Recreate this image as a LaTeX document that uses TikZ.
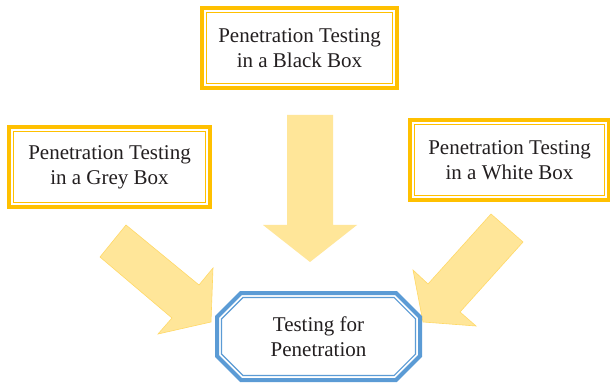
\documentclass[tikz,border=0pt]{standalone}
\usepackage{fontspec}
\setmainfont{Liberation Serif}
\usetikzlibrary{calc}
\definecolor{gold}{HTML}{FFC000}
\definecolor{blueb}{HTML}{5B9BD5}
\definecolor{arrowfill}{HTML}{FFE699}
\definecolor{arrowline}{HTML}{FFD966}
\definecolor{txt}{HTML}{231F20}
\begin{document}
\begin{tikzpicture}[x=1pt,y=-1pt,
  goldbox/.style={draw=gold, line width=4pt, fill=white, minimum width=#1,
    minimum height=80pt, inner sep=0pt, outer sep=0pt, align=center,
    font=\fontsize{21}{25}\selectfont, text=txt},
  innerline/.style={draw=gold, line width=1.2pt},
  blueline/.style={draw=blueb, line width=4pt, line join=miter},
  blueinner/.style={draw=blueb, line width=1.2pt, line join=miter},
  blockarrow/.style={fill=arrowfill, draw=arrowline, line width=0.6pt, line join=miter},
  lbl/.style={align=center, font=\fontsize{21}{25}\selectfont, text=txt, inner sep=0pt}]
\useasboundingbox[fill=white] (0,0) rectangle (610,387);

% block arrows
\fill[arrowfill] (287,115) -- (333,115) -- (333,225) -- (357,225) -- (310,262) -- (263,225) -- (287,225) -- cycle;
\draw[blockarrow] (100,257) -- (126,225) -- (199,285) -- (213,268) -- (211,322) -- (158,334) -- (172,318) -- cycle;
\draw[blockarrow] (491,214) -- (523,242) -- (460,312) -- (476,326) -- (423,322) -- (413,270) -- (428,284) -- cycle;

% boxes
\node[goldbox=195pt] (black) at (299.5,48) {Penetration Testing\\in a Black Box};
\draw[innerline] ($(black.north west)+(4.5,4.5)$) rectangle ($(black.south east)+(-4.5,-4.5)$);
\node[goldbox=201pt] (grey) at (109.5,167) {Penetration Testing\\in a Grey Box};
\draw[innerline] ($(grey.north west)+(4.5,4.5)$) rectangle ($(grey.south east)+(-4.5,-4.5)$);
\node[goldbox=199pt] (white) at (509.5,160) {Penetration Testing\\in a White Box};
\draw[innerline] ($(white.north west)+(4.5,4.5)$) rectangle ($(white.south east)+(-4.5,-4.5)$);

% octagon
\coordinate (pc) at (318.5,336.5);
\coordinate (nw) at ($(pc)+(-101.5,-43.5)$);
\coordinate (se) at ($(pc)+(101.5,43.5)$);
\coordinate (ne) at ($(pc)+(101.5,-43.5)$);
\coordinate (sw) at ($(pc)+(-101.5,43.5)$);
\draw[blueline, fill=white] ($(nw)+(24,0)$) -- ($(ne)+(-24,0)$) -- ($(ne)+(0,24)$) -- ($(se)+(0,-24)$)
  -- ($(se)+(-24,0)$) -- ($(sw)+(24,0)$) -- ($(sw)+(0,-24)$) -- ($(nw)+(0,24)$) -- cycle;
\draw[blueinner] ($(nw)+(4.5+21.4,4.5)$) -- ($(ne)+(-4.5-21.4,4.5)$) -- ($(ne)+(-4.5,4.5+21.4)$)
  -- ($(se)+(-4.5,-4.5-21.4)$) -- ($(se)+(-4.5-21.4,-4.5)$) -- ($(sw)+(4.5+21.4,-4.5)$)
  -- ($(sw)+(4.5,-4.5-21.4)$) -- ($(nw)+(4.5,4.5+21.4)$) -- cycle;
\node[lbl] (pen) at (pc) {Testing for\\Penetration};
\end{tikzpicture}
\end{document}
